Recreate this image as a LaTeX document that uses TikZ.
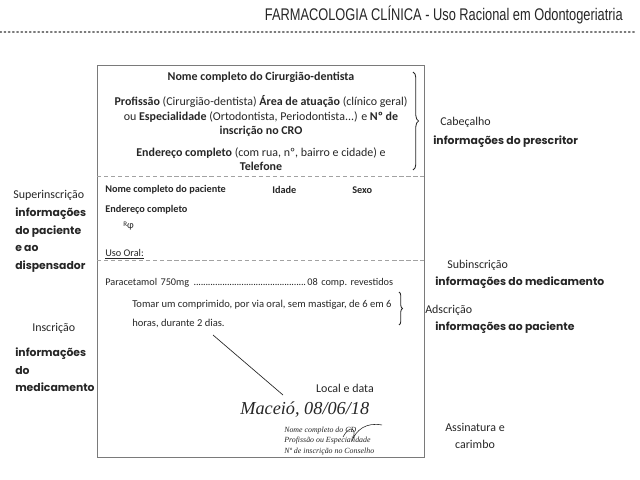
\documentclass[tikz,border=0pt]{standalone}
\usepackage{fontspec}
\usepackage{graphicx}
\setmainfont{Carlito}
\newfontfamily\comicfont{Poppins}
\newfontfamily\handfont{Liberation Serif}
\newfontfamily\headfont{Liberation Sans}
\usetikzlibrary{decorations.pathreplacing,positioning}
\definecolor{inkgray}{HTML}{262626}
\definecolor{rulegray}{HTML}{7A7A7A}

\begin{document}
\begin{tikzpicture}[
  x=0.025cm,y=-0.025cm,
  boxtext/.style={font=\fontsize{8.5}{10.3}\selectfont,text=inkgray,inner sep=0pt,align=center},
  rowtext/.style={font=\fontsize{7.3}{9}\selectfont,text=inkgray,inner sep=0pt,anchor=west},
  partname/.style={font=\fontsize{8.5}{10}\selectfont,text=inkgray,inner sep=0pt,anchor=west},
  partinfo/.style={font=\comicfont\bfseries\fontsize{7.7}{12.4}\selectfont,text=inkgray,inner sep=0pt,anchor=west,align=left},
  handtext/.style={font=\handfont\itshape\fontsize{5.6}{7.5}\selectfont,text=inkgray,inner sep=0pt,anchor=west,align=left},
  sepline/.style={rulegray!70,densely dashed,line width=0.4pt},
  curly/.style={decorate,decoration={brace,amplitude=#1},line width=0.6pt,inkgray},
  curly/.default=4pt
]
\useasboundingbox (0,0) rectangle (640,480);

\node[anchor=east,inner sep=0pt,text=inkgray,font=\headfont\fontsize{12}{12}\selectfont] (titulo) at (623,15) {\scalebox{0.76}[1]{FARMACOLOGIA CLÍNICA - Uso Racional em Odontogeriatria}};
\draw[rulegray,dotted,line width=1pt,line cap=round] (0,32) -- (635,32);

\draw[rulegray,line width=0.7pt] (97,65) rectangle (424,457);
\draw[sepline] (97,176) -- (424,176);
\draw[sepline] (97,260) -- (424,260);

\node[boxtext,font=\bfseries\fontsize{8.5}{10.3}\selectfont] (cd) at (261,77) {Nome completo do Cirurgião-dentista};
\node[boxtext] (prof) at (261,116) {\textbf{Profissão} (Cirurgião-dentista) \textbf{Área de atuação} (clínico geral)\\ ou \textbf{Especialidade} (Ortodontista, Periodontista...) e \textbf{Nº de}\\ \textbf{inscrição no CRO}};
\node[boxtext] (endcd) at (261,159) {\textbf{Endereço completo} (com rua, nº, bairro e cidade) e\\ \textbf{Telefone}};

\node[rowtext,font=\bfseries\fontsize{7.3}{9}\selectfont] (paciente) at (105,190) {Nome completo do paciente};
\node[rowtext,font=\bfseries\fontsize{7.3}{9}\selectfont] (idade) at (272,190) {Idade};
\node[rowtext,font=\bfseries\fontsize{7.3}{9}\selectfont] (sexo) at (352,190) {Sexo};
\node[rowtext,font=\bfseries\fontsize{7.3}{9}\selectfont] (endpac) at (105,210) {Endereço completo};
\node[rowtext] (rp) at (123,226) {{\fontsize{5}{5}\selectfont R}\raisebox{-1.5pt}{φ}};
\node[rowtext] (usooral) at (105,254) {\underline{Uso Oral:}};
\node[rowtext,text width=7.2cm] (remedio) at (105,283) {Paracetamol 750mg \leaders\hbox to 1.7pt{\hss.\hss}\hfill08 comp.\ revestidos};
\node[rowtext,align=left,font=\fontsize{7.5}{13.5}\selectfont] (posologia) at (132,314) {Tomar um comprimido, por via oral, sem mastigar, de 6 em 6\\horas, durante 2 dias.};
\draw[curly=2.5pt] (399,292) -- (399,325);

\coordinate (tracoA) at (213,335);
\coordinate (tracoB) at (283,395);
\draw[inkgray,line width=0.5pt] (tracoA) -- (tracoB);

\node[partname,anchor=center] (lugar) at (345,388) {Local e data};
\node[inner sep=0pt,anchor=west,text=inkgray,font=\handfont\itshape\fontsize{13}{13}\selectfont] (data) at (240,410) {Maceió, 08/06/18};
\node[handtext] (assin) at (284,441) {Nome completo do CD\\Profissão ou Especialidade\\Nº de inscrição no Conselho};
\draw[inkgray,line width=0.4pt] (343,437) .. controls (350,424) and (358,428) .. (352,441) .. controls (356,430) and (366,422) .. (382,425);

\draw[curly] (413,72) -- (413,170);
\node[partname] (cabecalho) at (440,122) {Cabeçalho};
\node[partinfo] (prescritor) at (433,142) {informações do prescritor};

\node[partname] (superinsc) at (13,195) {Superinscrição};
\node[partinfo] (infopac) at (15,240) {informações\\do paciente\\e ao\\dispensador};
\node[partname] (inscricao) at (32,328) {Inscrição};
\node[partinfo] (infomed) at (15,370) {informações\\do\\medicamento};

\node[partname] (subinsc) at (447,265) {Subinscrição};
\node[partinfo] (subinfo) at (435,283) {informações do medicamento};
\node[partname] (adscricao) at (425,310) {Adscrição};
\node[partinfo] (adinfo) at (435,328) {informações ao paciente};
\node[partname,align=center,anchor=center,font=\fontsize{8.5}{12}\selectfont] (assinatura) at (475,436) {Assinatura e\\carimbo};
\end{tikzpicture}
\end{document}
